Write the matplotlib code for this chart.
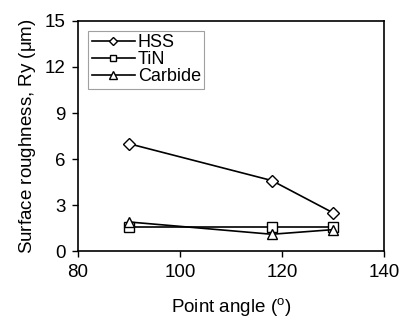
import matplotlib
matplotlib.use("Agg")
import matplotlib.pyplot as plt

plt.rcParams['font.family'] = ['Liberation Sans', 'DejaVu Sans']
plt.rcParams['mathtext.fontset'] = 'custom'
plt.rcParams['mathtext.rm'] = 'Liberation Sans'

angles = [90, 118, 130]
hss = [7.0, 4.6, 2.5]
tin = [1.6, 1.6, 1.6]
carbide = [1.9, 1.1, 1.4]
xticks = [80, 100, 120, 140]
yticks = [0, 3, 6, 9, 12, 15]

fig = plt.figure(figsize=(4.0, 3.27), dpi=100)
ax = fig.add_axes([0.195, 0.232, 0.765, 0.704])

kw = dict(color='black', lw=1.2, markerfacecolor='white', markeredgecolor='black', markeredgewidth=1.0)
ax.plot(angles, hss, marker='D', ms=6, label='HSS', **kw)
ax.plot(angles, tin, marker='s', ms=6.5, label='TiN', **kw)
ax.plot(angles, carbide, marker='^', ms=7, label='Carbide', **kw)

ax.set_xlim(80, 140)
ax.set_ylim(0, 15)
ax.set_xticks(xticks)
ax.set_yticks(yticks)
ax.tick_params(direction='out', length=4, width=1, labelsize=13.5, pad=5)
ax.set_xlabel(r'Point angle ($^{\mathrm{o}}$)', fontsize=13.5, labelpad=11)
ax.set_ylabel(r'Surface roughness, Ry ($\mathrm{\mu}$m)', fontsize=13.5, labelpad=5)
for s in ax.spines.values():
    s.set_linewidth(1.2)

leg = ax.legend(loc='upper left', bbox_to_anchor=(0.033, 0.957), fontsize=13, frameon=True,
                fancybox=False, edgecolor='#888888', handlelength=2.4, handletextpad=0.15,
                labelspacing=0.0, borderpad=0.2, borderaxespad=0, markerscale=0.75)
leg.get_frame().set_linewidth(0.8)

fig.savefig('out.png', dpi=100)
